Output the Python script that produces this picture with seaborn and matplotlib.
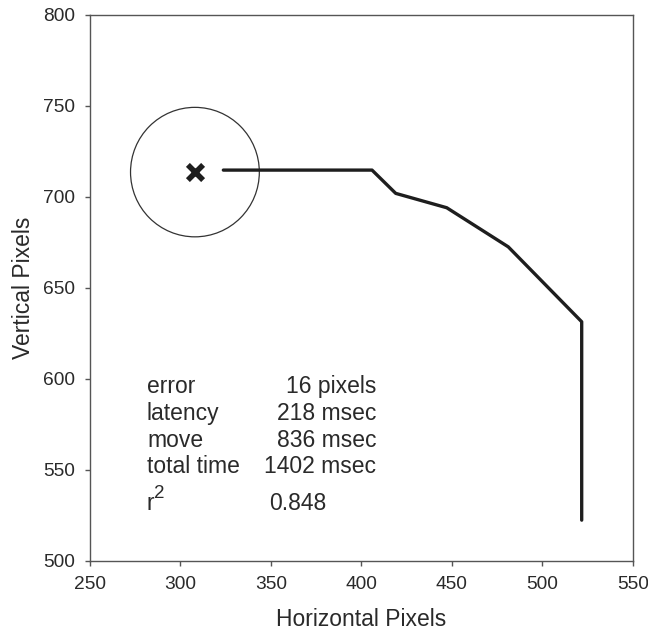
import matplotlib
matplotlib.use("Agg")
import matplotlib.pyplot as plt
import seaborn as sns
import pandas as pd
from matplotlib.patches import Circle

# Data
path_x = [323.7, 405.9, 419.0, 447.2, 481.2, 521.8, 521.8]
path_y = [714.7, 714.7, 701.9, 694.0, 672.5, 631.3, 522.2]
target_x = [308.0]
target_y = [713.6]
target_radius = 35.6

stat_labels = ["error", "latency", "move", "total time"]
stat_values = ["16 pixels", "218 msec", "836 msec", "1402 msec"]
stat_y = [592.1, 577.2, 562.4, 548.1]
r2_value = "0.848"
r2_y = 527.7

x_ticks = [250, 300, 350, 400, 450, 500, 550]
y_ticks = [500, 550, 600, 650, 700, 750, 800]

sns.set_theme(style="ticks")
plt.rcParams['font.family'] = ['Liberation Sans', 'DejaVu Sans']

fig = plt.figure(figsize=(6.48, 6.35), dpi=100)
ax = fig.add_axes([0.1389, 0.1173, 0.9764 - 0.1389, 0.9764 - 0.1173])

df = pd.DataFrame({"x": path_x, "y": path_y})
sns.lineplot(data=df, x="x", y="y", sort=False, estimator=None, ax=ax,
             color="#1e1e1e", linewidth=2.4)

ax.add_patch(Circle((target_x[0], target_y[0]), target_radius, fill=False,
                    edgecolor="#333333", linewidth=0.9))
sns.scatterplot(x=target_x, y=target_y, marker="x", s=120, color="#1e1e1e",
                linewidth=4.0, ax=ax, zorder=5)

txt_kw = dict(fontsize=16.5, color="#2a2a2a", va="baseline")
for lab, val, yy in zip(stat_labels, stat_values, stat_y):
    ax.text(281.5, yy, lab, ha="left", **txt_kw)
    ax.text(408.1, yy, val, ha="right", **txt_kw)
ax.text(281.5, r2_y, "r", ha="left", **txt_kw)
ax.text(285.2, 534.3, "2", ha="left", fontsize=13.5, color="#2a2a2a", va="baseline")
ax.text(349.0, r2_y, r2_value, ha="left", **txt_kw)

ax.set_xlim(250, 550)
ax.set_ylim(500, 800)
ax.set_xticks(x_ticks)
ax.set_yticks(y_ticks)
ax.set_xlabel("Horizontal Pixels", fontsize=16.5, color="#2a2a2a", labelpad=11)
ax.set_ylabel("Vertical Pixels", fontsize=16.5, color="#2a2a2a", labelpad=6)
ax.tick_params(axis="both", labelsize=13.8, colors="#555555", length=3.6, width=1,
               labelcolor="#2a2a2a")
ax.tick_params(axis="x", pad=7.5)
ax.tick_params(axis="y", pad=7.0)
for s in ax.spines.values():
    s.set_visible(True)
    s.set_color("#555555")
    s.set_linewidth(1.0)

fig.savefig("out.png", dpi=100)
